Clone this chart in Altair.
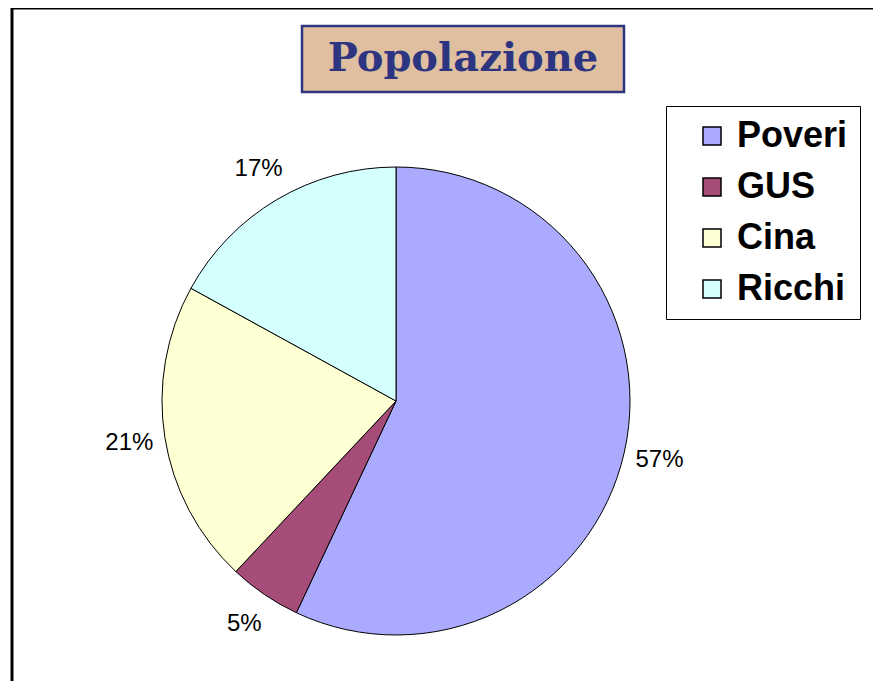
import altair as alt
import pandas as pd

categories = ["Poveri", "GUS", "Cina", "Ricchi"]
values = [57, 5, 21, 17]
colors = ["#AAAAFF", "#A64C78", "#FFFFD4", "#D4FFFF"]
title_text = "Popolazione"

df = pd.DataFrame({"cat": categories, "val": values, "idx": list(range(len(categories)))})

W, H = 865, 673
CX, CY, R = 388, 393, 234

base = alt.Chart(df).encode(
    theta=alt.Theta("val:Q", stack=True),
    order=alt.Order("idx:Q"),
)

pie = base.mark_arc(stroke="#000000", strokeWidth=1, radius=R).encode(
    x=alt.value(CX), y=alt.value(CY),
    color=alt.Color(
        "cat:N",
        scale=alt.Scale(domain=categories, range=colors),
        sort=categories,
        legend=alt.Legend(
            title=None, orient="none", legendX=658, legendY=98,
            symbolType="square", symbolSize=324, symbolStrokeColor="#000000",
            symbolStrokeWidth=1.5, symbolOpacity=1,
            labelFont="Liberation Sans", labelFontWeight="bold", labelFontSize=36,
            labelColor="#000000", rowPadding=15, symbolOffset=16, labelOffset=7,
            strokeColor="#000000", fillColor="#FFFFFF", padding=12,
            labelLimit=300,
        ),
    ),
)

labels = base.transform_calculate(lab="datum.val + '%'").mark_text(
    radius=270, font="Liberation Sans", fontSize=24, color="#000000"
).encode(x=alt.value(CX), y=alt.value(CY), text="lab:N")

one = pd.DataFrame({"t": [title_text]})

frame_top = alt.Chart(one).mark_rule(stroke="#000000", strokeWidth=3).encode(
    x=alt.value(3), x2=alt.value(W), y=alt.value(0)
)
frame_left = alt.Chart(one).mark_rule(stroke="#000000", strokeWidth=3).encode(
    x=alt.value(4), y=alt.value(-1), y2=alt.value(H)
)

tbox = alt.Chart(one).mark_rect(
    fill="#E0BFA0", stroke="#2E3580", strokeWidth=2.5
).encode(x=alt.value(294), x2=alt.value(616), y=alt.value(18), y2=alt.value(84))

ttext = alt.Chart(one).mark_text(
    font="DejaVu Serif", fontWeight="bold", fontSize=40, color="#2E3580",
    align="center", baseline="middle",
).encode(x=alt.value(455), y=alt.value(51), text="t:N")

chart = alt.layer(frame_top, frame_left, pie, labels, tbox, ttext).properties(
    width=W, height=H, autosize=alt.AutoSizeParams(type="none"), padding=0
).configure_view(stroke=None)

chart.save("out.html", embed_options={"renderer": "svg", "actions": False})
